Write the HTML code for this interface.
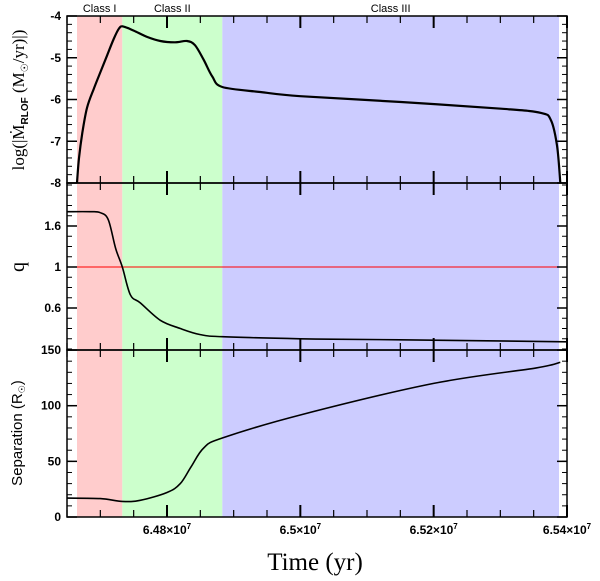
<!DOCTYPE html>
<html><head><meta charset="utf-8"><style>
body{margin:0;background:#fff;width:600px;height:581px;overflow:hidden}
svg{display:block}
text{font-family:"Liberation Sans",sans-serif}
.tk{font-weight:bold;font-size:12px}
</style></head><body>
<svg id="chart" width="600" height="581" xmlns="http://www.w3.org/2000/svg"></svg>
<script>
// time values in units of 1e7 yr
const mdotTime=[6.4665,6.4668,6.4673,6.4680,6.4690,6.4700,6.4710,6.4720,6.4728,6.4734,6.4750,6.4770,6.4790,6.4812,6.4830,6.4842,6.4855,6.4868,6.4883,6.4940,6.5000,6.5151,6.5301,6.5361,6.5376,6.5385,6.5390];
const mdotVals=[-8,-7.4,-6.8,-6.2,-5.75,-5.35,-4.95,-4.55,-4.3,-4.25,-4.35,-4.5,-4.6,-4.63,-4.6,-4.7,-5.05,-5.45,-5.7,-5.82,-5.92,-6.06,-6.22,-6.32,-6.5,-7.1,-8];
const qTime=[6.4650,6.4685,6.4700,6.4712,6.4723,6.4733,6.4745,6.4760,6.4790,6.4820,6.4850,6.4883,6.5000,6.5150,6.5400];
const qVals=[1.54,1.54,1.53,1.46,1.18,1.0,0.73,0.65,0.48,0.40,0.34,0.32,0.30,0.29,0.27];
const sepTime=[6.4650,6.4700,6.4733,6.4760,6.4800,6.4820,6.4836,6.4855,6.4883,6.5002,6.5200,6.5354,6.5390];
const sepVals=[17,16.5,14,15,22,30,45,62,71,92,120,134,139];
const bandStarts=[6.4665,6.4733,6.4883];
const bandEnds=[6.4733,6.4883,6.5388];
const bandNames=["Class I","Class II","Class III"];
const xTickVals=[6.48,6.50,6.52,6.54];
const xTickLabels=["6.48","6.5","6.52","6.54"];
const mTicks=[-4,-5,-6,-7,-8];
const qTicks=[0.6,1,1.4];
const qTickLabels=["0.6","1","1.6"];
const sTicks=[0,50,100,150];

const NS="http://www.w3.org/2000/svg";
const svg=document.getElementById('chart');
const X0=67,X1=567,T0=6.465,T1=6.54;
const xs=t=>X0+(t-T0)/(T1-T0)*(X1-X0);
const panels=[{top:16,bot:183,y:v=>16+(-4-v)*41.75},{top:183,bot:350,y:v=>267-(v-1)*102.5},{top:350,bot:517,y:v=>517-v*1.113}];
function el(tag,attrs,parent){const e=document.createElementNS(NS,tag);for(const k in attrs)e.setAttribute(k,attrs[k]);(parent||svg).appendChild(e);return e;}
const colors=["#ffcccc","#ccffcc","#ccccff"];
for(let i=0;i<bandStarts.length;i++){
  const r=el('rect',{x:xs(bandStarts[i]),y:16,width:xs(bandEnds[i])-xs(bandStarts[i]),height:501,fill:colors[i]});
  
  
  const t=el('text',{x:(xs(bandStarts[i])+xs(bandEnds[i]))/2,y:12,'text-anchor':'middle','font-size':'11'});
  t.textContent=bandNames[i];
  
  
}
const rl=el('line',{x1:X0,x2:X1,y1:panels[1].y(1),y2:panels[1].y(1),stroke:'#ff0000','stroke-width':1});


function series(ts,vs,p,name,w){
  const P=ts.map((t,i)=>[xs(t),p.y(vs[i])]);
  let d='M'+P[0][0].toFixed(1)+','+P[0][1].toFixed(1);
  for(let i=0;i<P.length-1;i++){
    const p0=P[Math.max(0,i-1)],p1=P[i],p2=P[i+1],p3=P[Math.min(P.length-1,i+2)];
    const c1=[p1[0]+(p2[0]-p0[0])/6,p1[1]+(p2[1]-p0[1])/6];
    const c2=[p2[0]-(p3[0]-p1[0])/6,p2[1]-(p3[1]-p1[1])/6];
    d+='C'+c1.map(v=>v.toFixed(1))+' '+c2.map(v=>v.toFixed(1))+' '+p2.map(v=>v.toFixed(1));
  }
  const s=el('path',{d:d,fill:'none',stroke:'#000','stroke-width':w,'stroke-linejoin':'round'});
  
  
}
series(mdotTime,mdotVals,panels[0],'mdot-line',2.2);
series(qTime,qVals,panels[1],'q-line',1.6);
series(sepTime,sepVals,panels[2],'separation-line',1.6);
panels.forEach((p,pi)=>{
  const f=el('rect',{x:X0,y:p.top,width:X1-X0,height:p.bot-p.top,fill:'none',stroke:'#000','stroke-width':1.5});
  
  
  for(let t=6.465;t<=6.5401;t+=0.005){
    const major=Math.abs(Math.round(t*50)/50-t)<1e-6;const L=major?12:7;
    el('line',{x1:xs(t),x2:xs(t),y1:p.bot,y2:p.bot-L,stroke:'#000','stroke-width':major?2:1.2});
    el('line',{x1:xs(t),x2:xs(t),y1:p.top,y2:p.top+L,stroke:'#000','stroke-width':major?2:1.2});
  }
});
function yticks(p,vals,labels,minStep,lo,hi){
  for(let v=lo;v<=hi+1e-9;v+=minStep){
    const y=p.y(v);if(y<p.top-0.5||y>p.bot+0.5)continue;
    el('line',{x1:X0,x2:X0+5,y1:y,y2:y,stroke:'#000'});el('line',{x1:X1,x2:X1-5,y1:y,y2:y,stroke:'#000'});
  }
  vals.forEach((v,i)=>{const y=p.y(v);
    el('line',{x1:X0,x2:X0+10,y1:y,y2:y,stroke:'#000','stroke-width':1.5});el('line',{x1:X1,x2:X1-10,y1:y,y2:y,stroke:'#000','stroke-width':1.5});
    const t=el('text',{x:X0-6,y:y+4,'text-anchor':'end',class:'tk'});t.textContent=labels[i];
    
    
  });
}
yticks(panels[0],mTicks,mTicks.map(String),0.2,-8,-4);
yticks(panels[1],qTicks,qTickLabels,0.1,0.1,1.9);
yticks(panels[2],sTicks,sTicks.map(String),10,0,150);
xTickVals.forEach((v,i)=>{
  const t=el('text',{x:xs(v),y:534,'text-anchor':'middle',class:'tk'});
  t.innerHTML=xTickLabels[i]+'×10<tspan dy="-5" font-size="8">7</tspan>';
  
  
});
</script>
<svg width="600" height="581" style="position:absolute;left:0;top:0">
<text transform="translate(24,100) rotate(-90)" text-anchor="middle" font-size="17" style="font-family:'Liberation Serif',serif">log(|Ṁ<tspan font-size="10" dy="4" font-weight="bold" font-family="Liberation Sans">RLOF</tspan><tspan dy="-4"> (M</tspan><tspan font-size="10" dy="4">☉</tspan><tspan dy="-4">/yr)|)</tspan></text>
<text transform="translate(24,267) rotate(-90)" text-anchor="middle" font-size="20" style="font-family:'Liberation Serif',serif">q</text>
<text transform="translate(22,433) rotate(-90)" text-anchor="middle" font-size="15">Separation (R<tspan font-size="9" dy="3">☉</tspan><tspan dy="-3">)</tspan></text>
<text x="315" y="570" text-anchor="middle" font-size="25" style="font-family:'Liberation Serif',serif">Time (yr)</text>
</svg>
</body></html>
